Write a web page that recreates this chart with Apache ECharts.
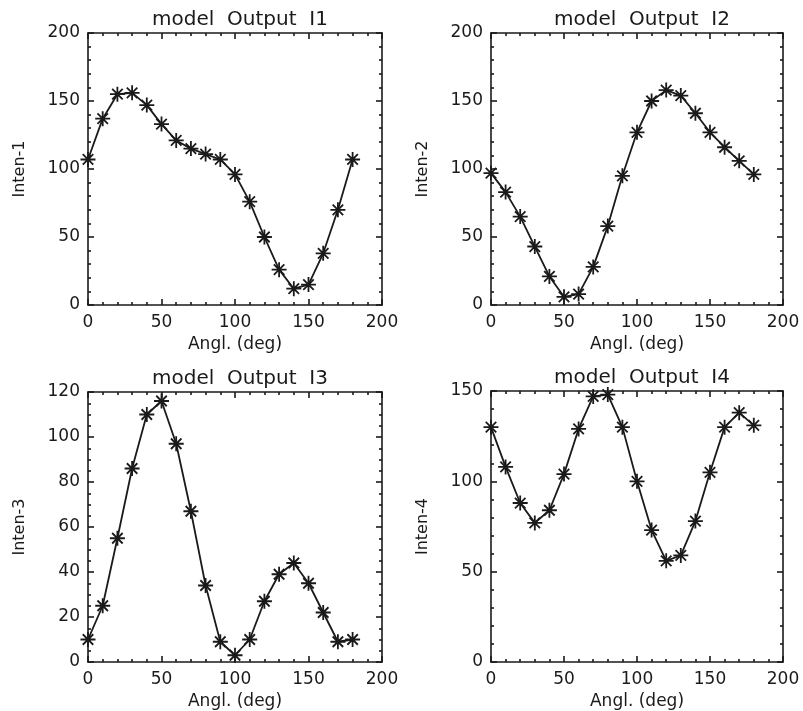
<!DOCTYPE html>
<html>
<head>
<meta charset="utf-8">
<script src="https://cdn.jsdelivr.net/npm/echarts@6/dist/echarts.min.js"></script>
<style>
html,body{margin:0;padding:0;background:#fff;}
#c{width:803px;height:711px;}
</style>
</head>
<body>
<div id="c"></div>
<script>
const angles = [0,10,20,30,40,50,60,70,80,90,100,110,120,130,140,150,160,170,180];
const inten1 = [107,137,155,156,147,133,121,115,111,107,96,76,50,26,12,15,38,70,107];
const inten2 = [97,83,65,43,21,6,8,28,58,95,127,150,158,154,141,127,116,106,96];
const inten3 = [10,25,55,86,110,116,97,67,34,9,3,10,27,39,44,35,22,9,10];
const inten4 = [130,108,88,77,84,104,129,147,148,130,100,73,56,59,78,105,130,138,131];
const titles = ['model  Output  I1','model  Output  I2','model  Output  I3','model  Output  I4'];
const yNames = ['Inten-1','Inten-2','Inten-3','Inten-4'];
const xName = 'Angl. (deg)';
const yMax = [200,200,120,150];
const yInterval = [50,50,20,50];
const yMinorSplit = [5,5,4,5];
const xMax = 200, xInterval = 50;

const grids = [
  {left:88, top:33, width:294, height:272},
  {left:491, top:33, width:292, height:272},
  {left:88, top:392, width:294, height:273},
  {left:491, top:391, width:292, height:274}
];
const series = [inten1, inten2, inten3, inten4];
const FONT = 'DejaVu Sans';
const ink = '#1a1a1a';

const starPath = 'path://M0,5L10,5M5,0L5,10M1.5,1.5L8.5,8.5M8.5,1.5L1.5,8.5';

function axisBase(pos) {
  return {
    axisLine: {show:true, onZero:false, lineStyle:{color:ink, width:1.6}},
    axisTick: {show:true, inside:true, length:6, lineStyle:{color:ink, width:1.6}},
    splitLine: {show:false},
    position: pos
  };
}

const xAxes = [], yAxes = [], ser = [], titleOpts = [];
grids.forEach((g, i) => {
  xAxes.push(Object.assign(axisBase('bottom'), {
    type:'value', gridIndex:i, min:0, max:xMax, interval:xInterval,
    minorTick:{show:true, splitNumber:5, length:3, lineStyle:{color:ink, width:1.6}},
    axisLabel:{color:ink, fontFamily:FONT, fontSize:17, margin:9},
    name:xName, nameLocation:'middle', nameGap:31,
    nameTextStyle:{color:ink, fontFamily:FONT, fontSize:17}
  }));
  yAxes.push(Object.assign(axisBase('left'), {
    type:'value', gridIndex:i, min:0, max:yMax[i], interval:yInterval[i],
    minorTick:{show:true, splitNumber:yMinorSplit[i], length:3, lineStyle:{color:ink, width:1.6}},
    axisLabel:{color:ink, fontFamily:FONT, fontSize:17, margin:8},
    name:yNames[i], nameLocation:'middle', nameGap:60,
    nameTextStyle:{color:ink, fontFamily:FONT, fontSize:16}
  }));
  titleOpts.push({
    text:titles[i], left:g.left + g.width/2, top:g.top - 28, textAlign:'center',
    textStyle:{color:ink, fontFamily:FONT, fontSize:20, fontWeight:'normal'}
  });
  ser.push({
    type:'line', xAxisIndex:i, yAxisIndex:i,
    data: angles.map((a, k) => [a, series[i][k]]),
    symbol: starPath, symbolSize: 15, showSymbol:true,
    itemStyle:{color:'rgba(0,0,0,0)', borderColor:ink, borderWidth:1.8},
    lineStyle:{color:ink, width:1.8},
    animation:false
  });
});
grids.forEach((g, i) => {
  xAxes.push(Object.assign(axisBase('top'), {
    type:'value', gridIndex:i, min:0, max:xMax, interval:xInterval,
    minorTick:{show:true, splitNumber:5, length:3, lineStyle:{color:ink, width:1.6}},
    axisLabel:{show:false}
  }));
  yAxes.push(Object.assign(axisBase('right'), {
    type:'value', gridIndex:i, min:0, max:yMax[i], interval:yInterval[i],
    minorTick:{show:true, splitNumber:yMinorSplit[i], length:3, lineStyle:{color:ink, width:1.6}},
    axisLabel:{show:false}
  }));
});

const chart = echarts.init(document.getElementById('c'), null, {renderer:'canvas'});
chart.setOption({
  animation:false,
  backgroundColor:'#fff',
  title: titleOpts,
  grid: grids,
  xAxis: xAxes,
  yAxis: yAxes,
  series: ser
});
</script>
</body>
</html>
